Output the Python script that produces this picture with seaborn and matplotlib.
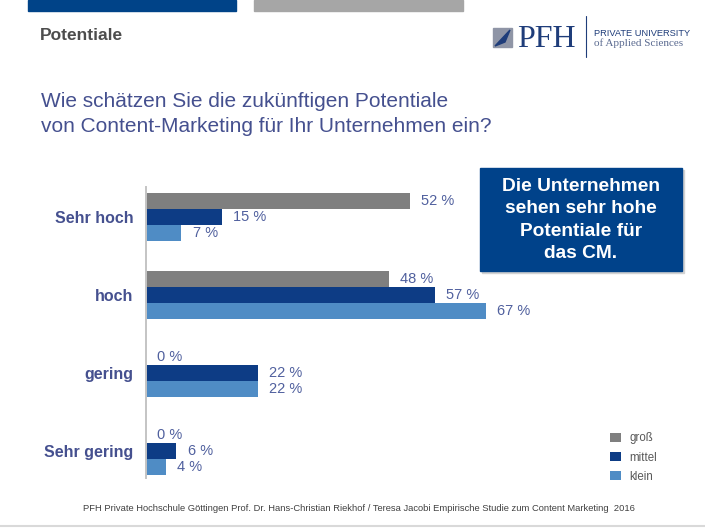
import numpy as np
import pandas as pd
import seaborn as sns
import matplotlib.pyplot as plt
from matplotlib.patches import Rectangle, Polygon
from matplotlib.lines import Line2D

# Daten
kategorien = ["Sehr hoch", "hoch", "gering", "Sehr gering"]
gruppen = ["groß", "mittel", "klein"]
gross = [52, 48, 0, 0]
mittel = [15, 57, 22, 6]
klein = [7, 67, 22, 4]

farben = ["#7f7f7f", "#0d3c85", "#4f8cc5"]
textblau = "#45508f"

df = pd.DataFrame({
    "Potential": kategorien * 3,
    "Gruppe": [g for g in gruppen for _ in kategorien],
    "Wert": gross + mittel + klein,
})

sns.set_theme(style="white")
plt.rcParams["font.family"] = ["Liberation Sans", "DejaVu Sans"]

fig = plt.figure(figsize=(7.05, 5.29), dpi=100)
W, H = 705, 529

def fx(px):
    return px / W

def fy(py):
    return (H - py) / H

ax = fig.add_axes([fx(146), fy(478), 507 / W, (478 - 187) / H])
sns.barplot(data=df, y="Potential", x="Wert", hue="Gruppe", order=kategorien,
            hue_order=gruppen, palette=farben, orient="h", width=0.61,
            saturation=1, ax=ax, linewidth=0)

ax.set_xlim(0, 100)
ax.set_ylim(3.34, -0.38)
ax.set_xlabel("")
ax.set_ylabel("")
ax.set_xticks([])
for s in ["top", "right", "bottom"]:
    ax.spines[s].set_visible(False)
ax.spines["left"].set_color("#c4c4c4")
ax.spines["left"].set_linewidth(1.4)
ax.tick_params(axis="y", length=0, pad=9)
for t in ax.get_yticklabels():
    t.set_fontweight("bold")
    t.set_fontsize(11.5)
    t.set_color(textblau)

for cont in ax.containers:
    werte = [int(round(b.get_width())) for b in cont]
    ax.bar_label(cont, labels=[f"{v} %" for v in werte], padding=8,
                 fontsize=10.5, color="#50609e")

sns.move_legend(ax, loc="upper left", bbox_to_anchor=(fx(600), fy(422)),
                bbox_transform=fig.transFigure, frameon=False, title=None,
                fontsize=8.3, handlelength=0.9, handleheight=0.9,
                labelspacing=0.62, handletextpad=0.75)
for t in ax.get_legend().get_texts():
    t.set_color("#595959")

# Kopfbereich
fig.patches.append(Rectangle((fx(28), fy(11)), 208 / W, 11 / H,
                             transform=fig.transFigure, color="#004388"))
fig.patches.append(Rectangle((fx(254), fy(11)), 209 / W, 11 / H,
                             transform=fig.transFigure, color="#a6a6a6"))
fig.text(fx(40), fy(40), "Potentiale", fontsize=12.5, fontweight="bold",
         color="#4d4d4d", va="baseline")

# Logo
fig.patches.append(Rectangle((fx(493), fy(47)), 19 / W, 19 / H,
                             transform=fig.transFigure, color="#8f95a6"))
fig.patches.append(Polygon([(fx(495), fy(46)), (fx(510), fy(30)),
                            (fx(505), fy(42))], closed=True,
                           transform=fig.transFigure, color="#1f3d7a"))
fig.text(fx(517), fy(47), "PFH", fontsize=23, color="#1f3d7a",
         family=["Liberation Serif", "DejaVu Serif"], va="baseline")
fig.lines.append(Line2D([fx(586), fx(586)], [fy(16), fy(57)],
                        transform=fig.transFigure, color="#1f3d7a", lw=0.8))
fig.text(fx(594), fy(36), "PRIVATE UNIVERSITY", fontsize=6.7, color="#1f3d7a",
         va="baseline")
fig.text(fx(594), fy(46), "of Applied Sciences", fontsize=8, color="#5a6a90",
         family=["Liberation Serif", "DejaVu Serif"], va="baseline")

# Frage
fig.text(fx(41), fy(107), "Wie schätzen Sie die zukünftigen Potentiale",
         fontsize=15, color=textblau, va="baseline")
fig.text(fx(41), fy(132), "von Content-Marketing für Ihr Unternehmen ein?",
         fontsize=15, color=textblau, va="baseline")

# Hinweisbox
fig.patches.append(Rectangle((fx(482), fy(273)), 202 / W, 103 / H,
                             transform=fig.transFigure, color="#d2d2d2"))
fig.patches.append(Rectangle((fx(480), fy(271)), 202 / W, 103 / H,
                             transform=fig.transFigure, color="#00428a"))
fig.text(fx(581), fy(220), "Die Unternehmen\nsehen sehr hohe\nPotentiale für\ndas CM.",
         fontsize=13.8, fontweight="bold", color="white", ha="center",
         va="center", linespacing=1.42)

# Fußzeile
fig.text(fx(359), fy(511),
         "PFH Private Hochschule Göttingen Prof. Dr. Hans-Christian Riekhof / "
         "Teresa Jacobi Empirische Studie zum Content Marketing  2016",
         fontsize=6.75, color="#404040", ha="center", va="baseline")
fig.lines.append(Line2D([0, 1], [fy(526), fy(526)], transform=fig.transFigure,
                        color="#d9d9d9", lw=1.5))

fig.savefig("out.png", dpi=100)
